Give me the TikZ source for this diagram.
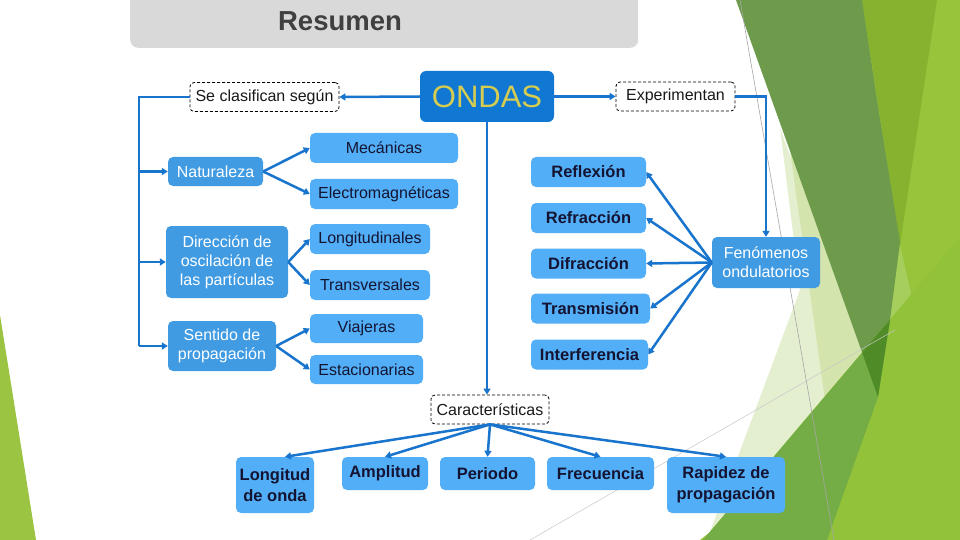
\documentclass[tikz,border=0pt]{standalone}
\usepackage{fontspec}
\setmainfont{Liberation Sans}
\usetikzlibrary{arrows.meta,calc}
\definecolor{conn}{RGB}{24,116,205}
\definecolor{ondasb}{RGB}{16,120,210}
\definecolor{ondast}{RGB}{214,205,80}
\definecolor{medb}{RGB}{64,155,227}
\definecolor{lightb}{RGB}{82,174,246}
\definecolor{navy}{RGB}{20,20,50}
\definecolor{headgray}{RGB}{217,217,217}
\definecolor{headtext}{RGB}{64,64,64}
\definecolor{gLeft}{RGB}{155,196,67}
\definecolor{gLight}{RGB}{152,196,60}
\definecolor{gLighter}{RGB}{166,206,92}
\definecolor{gBand}{RGB}{134,178,47}
\definecolor{gDark}{RGB}{110,155,75}
\definecolor{gDarker}{RGB}{79,139,39}
\definecolor{gPale}{RGB}{228,239,208}
\definecolor{gPaleB}{RGB}{211,228,172}
\definecolor{gMed}{RGB}{116,173,70}
\definecolor{gYG}{RGB}{146,194,58}
\begin{document}
\begin{tikzpicture}[x=1pt,y=-1pt,
  reg/.style={font=\fontsize{16}{19}\selectfont},
  lb/.style={reg, fill=lightb, rounded corners=5pt, text=navy, inner sep=0pt, minimum height=30pt, align=center},
  lbb/.style={lb, font=\bfseries\fontsize{16.5}{21}\selectfont},
  mb/.style={reg, fill=medb, rounded corners=5pt, text=white, inner sep=0pt, align=center},
  dbox/.style={reg, draw=black, dash pattern=on 3pt off 2pt, line width=0.8pt, fill=white, rounded corners=4pt, text=black!90, inner sep=0pt, minimum height=29pt},
  conline/.style={draw=conn, line width=2.5pt},
  arr/.style={conline, -{Triangle[length=6pt,width=7pt]}},
]
\useasboundingbox (0,0) rectangle (960,540);
\fill[white] (0,0) rectangle (960,540);
% background facets
\begin{scope}
\clip (0,0) rectangle (960,540);
\fill[gLeft] (0,315) -- (36,540) -- (0,540) -- cycle;
\fill[gLight] (862,0) -- (960,0) -- (960,540) -- (700,540) -- (880,398) -- cycle;
\fill[gLighter] (900,245) -- (925,355) -- (877,433) -- (878,397) -- cycle;
\fill[gPale] (780,128) -- (800,290) -- (705,545) -- (878,397) -- cycle;
\fill[gPaleB] (790,150) -- (878,397) -- (825,400) -- cycle;
\fill[gBand] (862,0) -- (937,0) -- (900,245) -- cycle;
\fill[gDark] (736,0) -- (862,0) -- (877,100) -- (900,242) -- (890,320) -- (878,397) -- cycle;
\fill[gYG] (703,540) -- (960,237) -- (960,540) -- cycle;
\fill[gMed] (703,540) -- (890,320) -- (878,397) -- (827,540) -- cycle;
\begin{scope}
\clip (703,540) -- (960,237) -- (960,540) -- cycle;
\fill[gDarker] (736,0) -- (862,0) -- (877,100) -- (900,242) -- (890,320) -- (878,397) -- cycle;
\end{scope}
\draw[black!35, line width=0.6pt] (740,0) -- (834,540);
\draw[black!22, line width=0.5pt] (530,540) -- (895,330);
\end{scope}
% header
\node[fill=headgray, rounded corners=8pt, minimum width=508pt, minimum height=60pt, inner sep=0pt, anchor=south west] (hdr) at (130,48) {};
\node[font=\bfseries\fontsize{27.5}{30}\selectfont, text=headtext] (res) at (340,21) {Resumen};
% nodes
\node[fill=ondasb, rounded corners=6pt, minimum width=134pt, minimum height=51pt, inner sep=0pt, text=ondast, font=\fontsize{31}{34}\selectfont] (ondas) at (487,96.5) {ONDAS};
\node[dbox, minimum width=149pt] (sc) at (264.5,97) {Se clasifican según};
\node[dbox, minimum width=119pt] (exp) at (675.5,96.5) {Experimentan};
\node[mb, minimum width=95pt, minimum height=29pt] (nat) at (215.5,171.5) {Naturaleza};
\node[lb, minimum width=148pt] (mec) at (384,148) {Mecánicas};
\node[lb, minimum width=148pt] (elec) at (384,194) {Electromagnéticas};
\node[mb, minimum width=122pt, minimum height=72pt] (dir) at (227,262) {Dirección de\\oscilación de\\las partículas};
\node[lb, minimum width=120pt] (lon) at (370,239) {Longitudinales};
\node[lb, minimum width=120pt] (tra) at (370,285) {Transversales};
\node[mb, minimum width=108pt, minimum height=50pt] (sen) at (222,346) {Sentido de\\propagación};
\node[lb, minimum width=113pt, minimum height=29pt] (via) at (366.5,328.5) {Viajeras};
\node[lb, minimum width=113pt, minimum height=29pt] (est) at (366.5,369.5) {Estacionarias};
\node[lbb, minimum width=115pt] (refl) at (588.5,172) {Reflexión};
\node[lbb, minimum width=115pt] (refr) at (588.5,218) {Refracción};
\node[lbb, minimum width=115pt] (dif) at (588.5,263.5) {Difracción};
\node[lbb, minimum width=119pt] (tran) at (590.5,308.5) {Transmisión};
\node[lbb, minimum width=117pt] (int) at (589.5,354.5) {Interferencia};
\node[mb, minimum width=108pt, minimum height=51pt] (fen) at (766,262.5) {Fenómenos\\ondulatorios};
\node[dbox, minimum width=118pt] (car) at (490,409.5) {Características};
\node[lbb, minimum width=78pt, minimum height=56pt] (lond) at (275,485) {Longitud\\de onda};
\node[lbb, minimum width=86pt, minimum height=33pt] (amp) at (385,473.5) {Amplitud};
\node[lbb, minimum width=95pt, minimum height=33pt] (per) at (487.5,473.5) {Periodo};
\node[lbb, minimum width=107pt, minimum height=33pt] (fre) at (600.5,473.5) {Frecuencia};
\node[lbb, minimum width=118pt, minimum height=56pt] (rap) at (726,485) {Rapidez de\\propagación};
% connectors
\coordinate (tl) at (139,97);
\draw[conline] (sc.west) -- (tl) -- (tl |- sen.west);
\draw[arr] (tl |- nat.west) -- (nat.west);
\draw[arr] (tl |- dir.west) -- (dir.west);
\draw[arr] (tl |- sen.west) -- (sen.west);
\draw[arr] (ondas.west) -- (sc.east);
\draw[arr] (ondas.east) -- (exp.west);
\draw[arr] (exp.east) -| (fen.north);
\draw[arr] (nat.east) -- (mec.west);
\draw[arr] (nat.east) -- (elec.west);
\draw[arr] (dir.east) -- (lon.west);
\draw[arr] (dir.east) -- (tra.west);
\draw[arr] (sen.east) -- (via.west);
\draw[arr] (sen.east) -- (est.west);
\draw[arr] (fen.west) -- (refl.east);
\draw[arr] (fen.west) -- (refr.east);
\draw[arr] (fen.west) -- (dif.east);
\draw[arr] (fen.west) -- (tran.east);
\draw[arr] (fen.west) -- (int.east);
\draw[arr] (ondas.south) -- (ondas.south |- car.north);
\draw[arr] (car.south) -- ($(lond.north)+(10,0)$);
\draw[arr] (car.south) -- (amp.north);
\draw[arr] (car.south) -- (per.north);
\draw[arr] (car.south) -- (fre.north);
\draw[arr] (car.south) -- (rap.north);
\end{tikzpicture}
\end{document}
